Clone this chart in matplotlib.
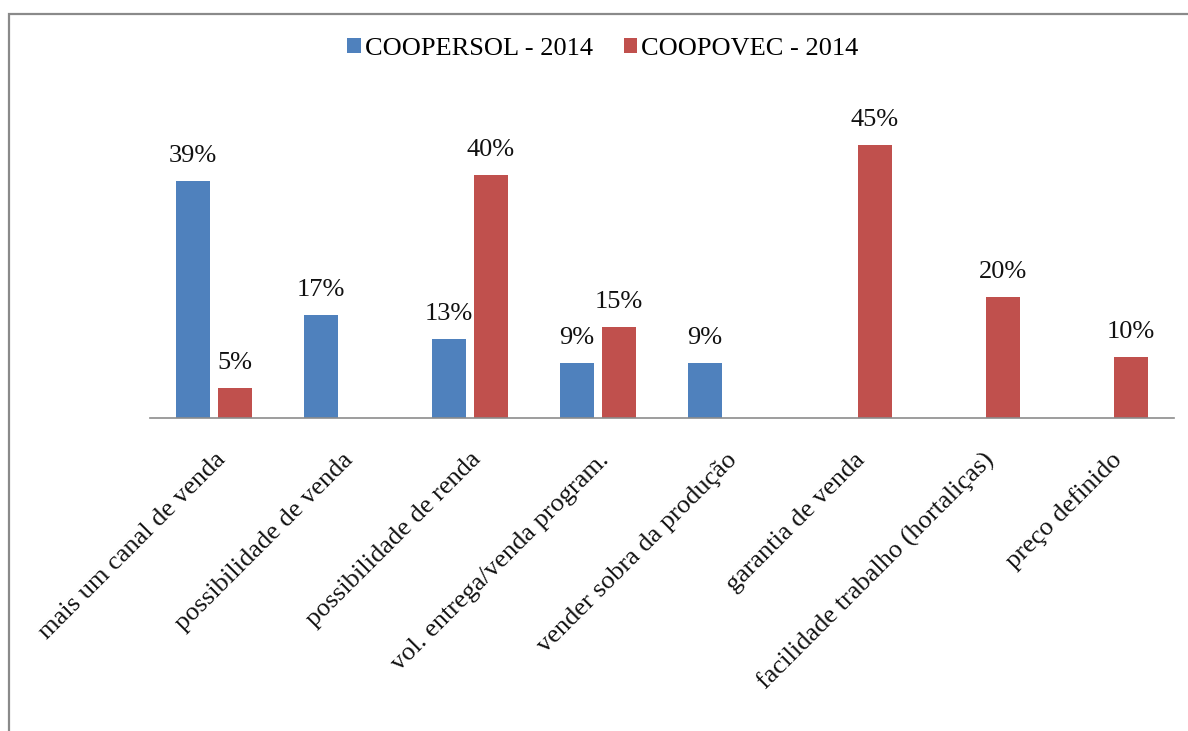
import matplotlib
matplotlib.use("Agg")
import matplotlib.pyplot as plt
from matplotlib.patches import Rectangle
import numpy as np

categories = [
    "mais um canal de venda",
    "possibilidade de venda",
    "possibilidade de renda",
    "vol. entrega/venda program.",
    "vender sobra da produção",
    "garantia de venda",
    "facilidade trabalho (hortaliças)",
    "preço definido",
]
coopersol = [39, 17, 13, 9, 9, None, None, None]
coopovec = [5, None, 40, 15, None, 45, 20, 10]
series_names = ["COOPERSOL - 2014", "COOPOVEC - 2014"]
colors = ["#4F81BD", "#C0504D"]

plt.rcParams["font.family"] = ["Liberation Serif", "DejaVu Serif"]

fig = plt.figure(figsize=(11.88, 7.31), dpi=100)
ax = fig.add_axes([150 / 1188, 1 - 418 / 731, 1024 / 1188, 318 / 731])

x = np.arange(len(categories))
width = 0.273
gap = 0.055
offsets = [-(width + gap) / 2, (width + gap) / 2]

for vals, off, col, name in zip([coopersol, coopovec], offsets, colors, series_names):
    xs = [xi + off for xi, v in zip(x, vals) if v is not None]
    ys = [v for v in vals if v is not None]
    bars = ax.bar(xs, ys, width=width, color=col, label=name)
    for b, v in zip(bars, ys):
        ax.annotate(f"{v}%", (b.get_x() + b.get_width() / 2, v),
                    xytext=(0, 10), textcoords="offset points",
                    ha="center", va="bottom", fontsize=19, color="#111111")

ax.set_xlim(-0.5, len(categories) - 0.5)
ax.set_ylim(0, 318 / 6.07)
for s in ["left", "right", "top"]:
    ax.spines[s].set_visible(False)
ax.spines["bottom"].set_color("#8c8c8c")
ax.spines["bottom"].set_linewidth(1.2)
ax.set_yticks([])
ax.set_xticks(x)
ax.set_xticklabels(categories, rotation=45, ha="right", va="top",
                   rotation_mode="anchor", fontsize=19, color="#111111")
ax.tick_params(axis="x", length=0, pad=22)

leg = fig.legend(loc="center", bbox_to_anchor=(603 / 1188, 1 - 49 / 731), ncol=2,
                 frameon=False, fontsize=19, handlelength=0.5, handleheight=0.5,
                 handletextpad=0.15, columnspacing=1.2)

# outer frame of the chart area
fig.add_artist(Rectangle((9 / 1188, -0.1), 1.2, 1 - 14 / 731 + 0.1,
                         transform=fig.transFigure, fill=False,
                         edgecolor="#8a8a8a", linewidth=1.6))

fig.savefig("out.png", dpi=100, facecolor="white")
